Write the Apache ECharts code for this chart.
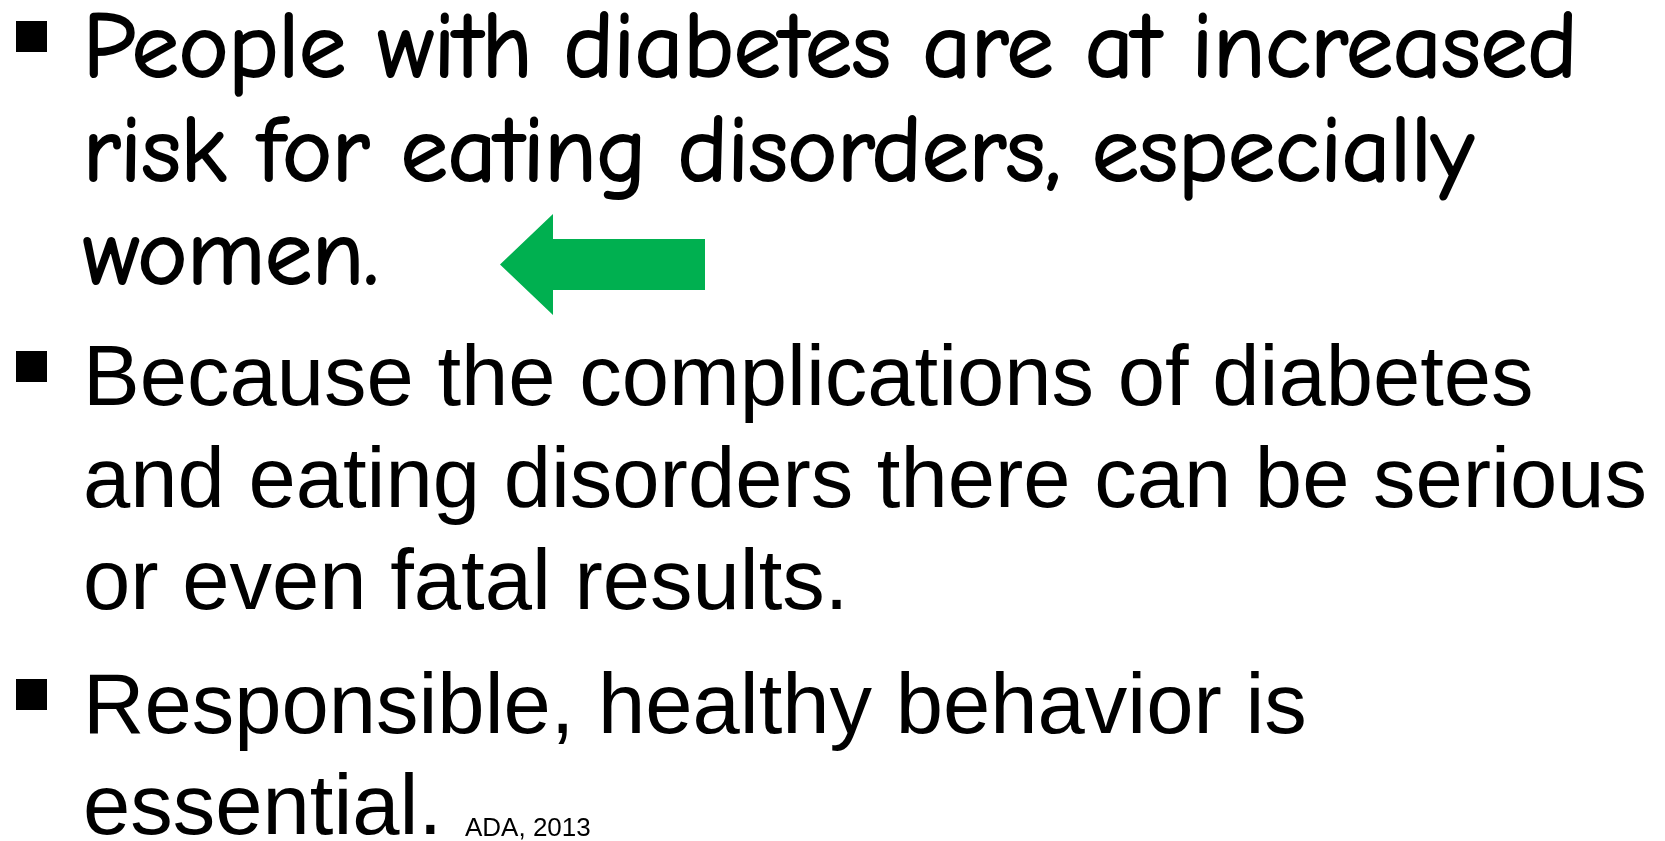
<!DOCTYPE html>
<html>
<head>
<meta charset="utf-8">
<title>Diabetes and eating disorders</title>
<script src="https://cdn.jsdelivr.net/npm/echarts@6/dist/echarts.min.js"></script>
<style>
  html, body { margin: 0; padding: 0; background: #ffffff; }
  #chart { width: 1665px; height: 841px; }
</style>
</head>
<body>
<div id="chart"></div>
<script>
// ---- Slide content ----
const bullet1Lines = [
  'People with diabetes are at increased',
  'risk for eating disorders, especially',
  'women.'
];
const bullet2Lines = [
  'Because the complications of diabetes',
  'and eating disorders there can be serious',
  'or even fatal results.'
];
const bullet3Lines = [
  'Responsible, healthy behavior is',
  'essential.'
];
const citation = 'ADA, 2013';

// ---- Layout ----
const TEXT_X = 83;
const BULLET_X = 16;
const BULLET_SIZE = 31;
const HAND_FONT = '"Comic Sans MS", "Comic Neue", "Open Sans", sans-serif';
const PLAIN_FONT = '"Liberation Sans", Arial, sans-serif';

const paragraphs = [
  { lines: bullet1Lines, font: HAND_FONT, size: 94, firstBaseline: 76, lineStep: 103.5, mid: 0.27, stroke: 2.2, bulletTop: 21 },
  { lines: bullet2Lines, font: PLAIN_FONT, size: 85, firstBaseline: 405, lineStep: 102, mid: 0.277, stroke: 0, bulletTop: 351 },
  { lines: bullet3Lines, font: PLAIN_FONT, size: 85, firstBaseline: 733, lineStep: 101.5, mid: 0.277, stroke: 0, bulletTop: 679 }
];

const graphics = [];
paragraphs.forEach(function (p) {
  graphics.push({
    type: 'rect',
    shape: { x: BULLET_X, y: p.bulletTop, width: BULLET_SIZE, height: BULLET_SIZE },
    style: { fill: '#000000' }
  });
  p.lines.forEach(function (line, i) {
    const baseline = p.firstBaseline + i * p.lineStep;
    const style = {
      text: line,
      fill: '#000000',
      font: 'normal ' + p.size + 'px ' + p.font,
      align: 'left',
      verticalAlign: 'middle'
    };
    if (p.stroke) {
      style.stroke = '#000000';
      style.lineWidth = p.stroke;
    }
    graphics.push({
      type: 'text',
      x: TEXT_X,
      y: baseline - p.mid * p.size,
      style: style
    });
  });
});

// citation after "essential."
graphics.push({
  type: 'text',
  x: 465,
  y: 836 - 0.277 * 26,
  style: {
    text: citation,
    fill: '#000000',
    font: 'normal 26px ' + PLAIN_FONT,
    align: 'left',
    verticalAlign: 'middle'
  }
});

// green left arrow
graphics.push({
  type: 'polygon',
  shape: {
    points: [[705, 239], [553, 239], [553, 214], [500, 264.5], [553, 315], [553, 290], [705, 290]]
  },
  style: { fill: '#00B050' }
});

const chart = echarts.init(document.getElementById('chart'), null, { renderer: 'canvas' });
chart.setOption({
  backgroundColor: '#ffffff',
  animation: false,
  graphic: graphics
});
</script>
</body>
</html>
